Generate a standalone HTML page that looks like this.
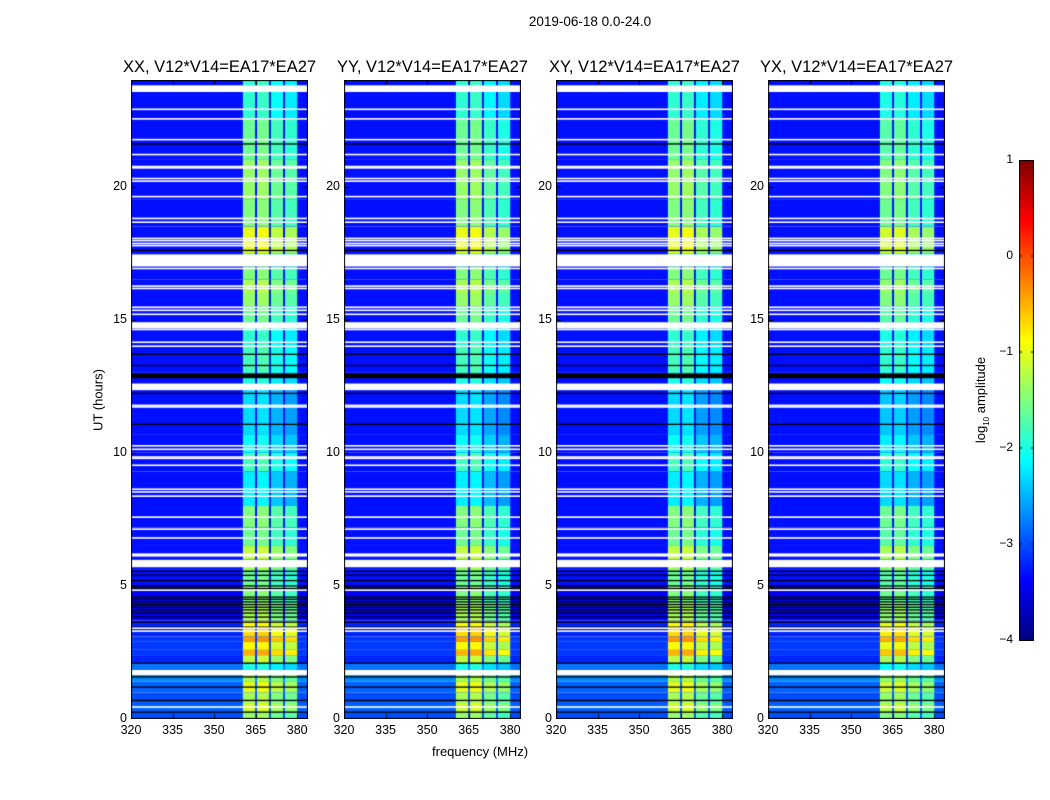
<!DOCTYPE html>
<html><head><meta charset="utf-8">
<style>
html,body{margin:0;padding:0;background:#fff;}
#root{position:relative;width:1050px;height:800px;font-family:"Liberation Sans",sans-serif;color:#000;overflow:hidden;}
.t{position:absolute;white-space:nowrap;}
canvas{position:absolute;}
</style></head>
<body>
<div id="root">
<div class="t" style="left:0;width:1180px;top:14px;text-align:center;font-size:13.5px;">2019-06-18 0.0-24.0</div>
<div class="t" style="left:98px;top:400px;font-size:13px;transform:translate(-50%,-50%) rotate(-90deg);">UT (hours)</div>
<div class="t" style="left:432px;top:744px;font-size:13px;">frequency (MHz)</div>
<canvas id="cb" width="15" height="481" style="left:1019px;top:160px;"></canvas>
<div class="t" style="left:982px;top:400px;font-size:13px;transform:translate(-50%,-50%) rotate(-90deg);">log<sub style="font-size:8px">10</sub> amplitude</div>
</div>
<script>
// ---- data ----
const panelTitles = ["XX, V12*V14=EA17*EA27","YY, V12*V14=EA17*EA27","XY, V12*V14=EA17*EA27","YX, V12*V14=EA17*EA27"];
const freqTicks = [320,335,350,365,380];
const utTicks = [0,5,10,15,20];
const cbTicks = [-4,-3,-2,-1,0,1];
const subBandLo = [360.4,365.5,370.5,375.6];
const subBandHi = [364.8,369.8,374.9,380.0];
const panelBandOffset = [[0,0.05,-0.2,-0.3],[0,0.05,-0.25,-0.4],[0,0.05,-0.3,-0.4],[-0.1,-0.05,-0.3,-0.4]];
const segT   = [0,0.3,0.6,1.0,1.4,1.7,2.1,2.4,2.6,2.9,3.1,3.4,3.7,4.3,5.0,5.6,6.0,6.5,7.2,8.0,9.3,10.0,10.7,12.4,13.0,14.0,14.9,15.5,16.0,16.5,17.0,17.5,18.5,19.5,21.0,22.5,24];
const bandLvl= [-1.4,-1.1,-1.3,-1.0,-1.3,-2.0,-1.2,-0.5,-0.9,-0.4,-0.7,-0.9,-1.3,-1.5,-1.6,-1.3,-1.2,-1.6,-1.5,-2.2,-1.8,-2.1,-2.3,-2.0,-1.8,-1.9,-1.6,-1.4,-1.3,-1.5,-1.6,-1.0,-1.5,-1.4,-1.6,-1.9];
const bgLvl  = [-3.0,-2.9,-3.0,-2.9,-2.7,-2.8,-3.2,-3.1,-3.1,-3.1,-3.2,-3.2,-3.4,-3.4,-3.3,-3.3,-3.3,-3.3,-3.3,-3.3,-3.3,-3.3,-3.3,-3.3,-3.3,-3.3,-3.3,-3.3,-3.3,-3.3,-3.3,-3.3,-3.3,-3.3,-3.3,-3.3];
const whiteUT = [23.6,22.9,22.54,21.76,21.2,20.75,20.7,20.3,20.2,19.62,18.8,18.66,18.05,17.97,17.86,17.78,16.92,16.26,16.17,15.46,15.35,15.2,14.63,14.15,14.0,11.78,11.72,10.26,10.13,9.84,9.79,9.53,8.63,8.53,8.37,7.58,7.13,6.8,6.19,6.13,4.84,3.41,3.3,0.45];
const whiteGapStart = [23.55,17.0,14.67,12.35,5.7,1.65];
const whiteGapEnd   = [23.8,17.45,14.9,12.6,5.97,1.84];
const blackUT = [21.6,17.6,13.7,13.28,12.23,11.07,5.55,5.4,5.2,5.0,4.9,4.58,4.5,4.4,4.3,4.2,4.1,3.98,3.83,3.64,3.45,2.1,1.58,1.2,0.7,0.26];
const blackGapStart = [12.8];
const blackGapEnd = [12.98];

// ---- layout ----
const panelX = [131,344,556,768];
const PW = 177, PT = 80, PB = 719;
const pxPerMHz = 2.77, pxPerHour = (PB-PT)/24;
function xScale(f){ return (f-320)*pxPerMHz; }
function yScale(ut){ return (PB-PT) - ut*pxPerHour; }
function jet(val){
  let v = Math.max(0,Math.min(1,(val+4)/5));
  function c(x){ return Math.max(0,Math.min(1,x)); }
  const r = c(Math.min(4*v-1.5, -4*v+4.5));
  const g = c(Math.min(4*v-0.5, -4*v+3.5));
  const b = c(Math.min(4*v+0.5, -4*v+2.5));
  return `rgb(${Math.round(r*255)},${Math.round(g*255)},${Math.round(b*255)})`;
}
const root = document.getElementById('root');
function addText(txt, x, y, css, name){
  const d = document.createElement('div');
  d.className='t'; d.textContent=txt;
  
  
  d.style.cssText += `left:${x}px;top:${y}px;` + css;
  root.appendChild(d); return d;
}
panelX.forEach((px, p) => {
  const cv = document.createElement('canvas');
  cv.width = PW; cv.height = PB-PT;
  cv.style.left = px+'px'; cv.style.top = PT+'px';
  
  
  root.appendChild(cv);
  const ctx = cv.getContext('2d');
  for (let s=0; s<segT.length-1; s++){
    const y0 = yScale(segT[s+1]), y1 = yScale(segT[s]);
    ctx.fillStyle = jet(bgLvl[s]);
    ctx.fillRect(0, y0, PW, y1-y0);
    for (let b=0; b<subBandLo.length; b++){
      ctx.fillStyle = jet(bandLvl[s] + panelBandOffset[p][b]);
      const xa = xScale(subBandLo[b]), xb = xScale(subBandHi[b]);
      ctx.fillRect(xa, y0, xb-xa, y1-y0);
    }
  }
  ctx.fillStyle = '#000';
  blackUT.forEach(u => ctx.fillRect(0, yScale(u)-0.6, PW, 1.3));
  blackGapStart.forEach((u,i) => { const y0=yScale(blackGapEnd[i]); ctx.fillRect(0,y0,PW,yScale(u)-y0); });
  ctx.fillStyle = '#fff';
  whiteUT.forEach(u => ctx.fillRect(0, yScale(u)-0.8, PW, 1.6));
  whiteGapStart.forEach((u,i) => { const y0=yScale(whiteGapEnd[i]); ctx.fillRect(0,y0,PW,yScale(u)-y0); });
  ctx.strokeStyle='#000'; ctx.lineWidth=1;
  ctx.strokeRect(0.5,0.5,PW-1,PB-PT-1);
  freqTicks.forEach(f => { const x=Math.round(xScale(f))+0.5; ctx.beginPath(); ctx.moveTo(x,PB-PT); ctx.lineTo(x,PB-PT-5); ctx.moveTo(x,0); ctx.lineTo(x,5); ctx.stroke(); });
  utTicks.forEach(u => { const y=Math.round(yScale(u))+0.5; ctx.beginPath(); ctx.moveTo(0,y); ctx.lineTo(5,y); ctx.moveTo(PW,y); ctx.lineTo(PW-5,y); ctx.stroke(); });
  addText(panelTitles[p], px+PW/2, 58, 'font-size:16.5px;transform:translateX(-50%);', 'panel-title-'+(p+1));
  freqTicks.forEach(f => addText(String(f), px+xScale(f), 723, 'font-size:12.5px;transform:translateX(-50%);', 'x-tick-'+f));
  utTicks.forEach(u => addText(String(u), px-4, PT+yScale(u)-8, 'font-size:12.5px;transform:translateX(-100%);', 'y-tick-'+u));
});
const cb = document.getElementById('cb'), cctx = cb.getContext('2d');
for (let i=0;i<481;i++){ cctx.fillStyle = jet(1 - i*5/480); cctx.fillRect(0,i,15,1); }
cctx.strokeStyle='#000'; cctx.strokeRect(0.5,0.5,14,480);
cbTicks.forEach(t => {
  const y = 160 + (1-t)*480/5;
  addText(t<0 ? '\u2212'+(-t) : String(t), 1013, y-8, 'font-size:12px;transform:translateX(-100%);', 'colorbar-tick-'+t);
  cctx.beginPath(); cctx.moveTo(0,y-160); cctx.lineTo(3,y-160); cctx.moveTo(15,y-160); cctx.lineTo(12,y-160); cctx.stroke();
});
</script>
</body></html>
